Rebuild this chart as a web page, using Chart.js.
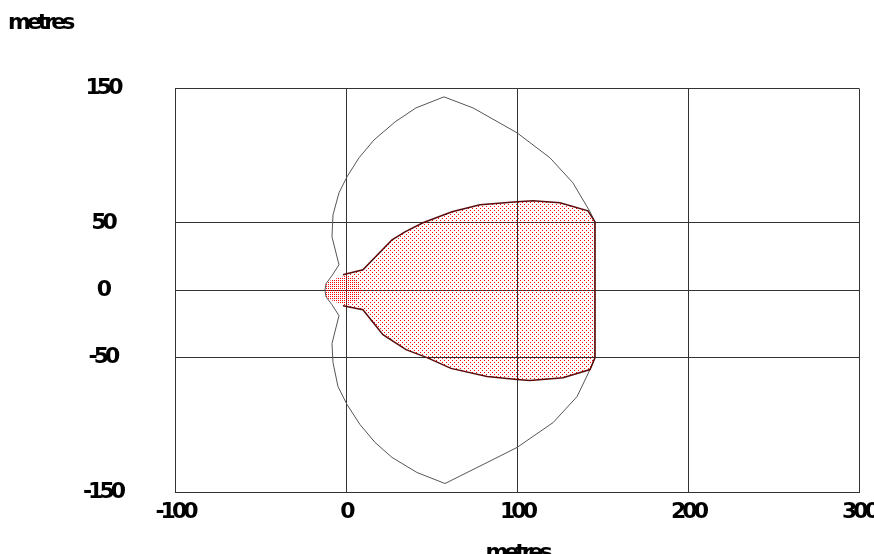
<!DOCTYPE html>
<html>
<head>
<meta charset="utf-8">
<script src="https://cdn.jsdelivr.net/npm/chart.js@4.4.0/dist/chart.umd.min.js"></script>
<style>
  html, body { margin: 0; padding: 0; overflow: hidden; background: #fff; }
  #wrap { width: 900px; height: 580px; }
</style>
</head>
<body>
<div id="wrap"><canvas id="coverChart" width="900" height="580"></canvas></div>
<script>
// axis ticks (metres)
const xTicks = [-100, 0, 100, 200, 300];
const yTicks = [-150, -50, 0, 50, 150];

// outer boundary (thin grey line)
const outerX = [145.6, 142.7, 132.7, 119.3, 100.0, 74.3, 57.3, 40.9, 28.7, 16.4, 7.6, 0.6, -4.1, -7.6, -8.2, -4.1, -8.2, -11.7, -12.3,
                -11.7, -8.2, -4.1, -8.2, -7.6, -4.7, 0.6, 8.2, 17.0, 26.9, 41.5, 57.9, 82.5, 100.0, 121.1, 135.1, 142.7, 145.6, 145.6];
const outerY = [50.8, 58.3, 79.8, 98.4, 117.0, 135.5, 143.7, 135.5, 125.1, 111.7, 98.4, 84.3, 72.4, 56.0, 39.7, 18.9, 10.8, 4.8, 0,
                -4.8, -10.8, -18.9, -39.7, -53.8, -71.6, -85.0, -99.9, -113.2, -124.3, -135.5, -143.7, -128.1, -116.9, -98.4, -79.1, -59.0, -50.1, 50.8];

// inner zone (red dotted, dark red outline)
const innerX = [-1.8, 9.9, 26.9, 34.5, 45.0, 62.0, 78.4, 100.0, 109.4, 125.1, 141.5, 145.6,
                145.6, 142.7, 126.9, 107.6, 100.0, 82.5, 61.4, 47.4, 35.1, 21.6, 9.9, -1.8, -1.8];
const innerY = [11.5, 15.2, 37.5, 43.4, 50.1, 58.3, 63.5, 65.7, 66.4, 65.0, 59.0, 50.8,
                -50.3, -59.0, -65.0, -67.2, -66.4, -64.2, -58.1, -50.1, -44.2, -33.0, -14.5, -11.5, 11.5];

// small dense zone near the origin
const blobX = [-12.3, -9.4, -4.7, 0, 4.7, 7.6, 8.8, 7.6, 4.7, 0, -4.7, -9.4, -12.3, -12.3];
const blobY = [4.8, 7.1, 9.3, 10.8, 8.5, 4.8, 0.4, -4.8, -8.5, -10.8, -9.3, -7.1, -4.8, 4.8];

function toPoints(xs, ys) {
    return xs.map((x, i) => ({ x: x, y: ys[i] }));
}

function dotPattern(size, dots) {
    const c = document.createElement('canvas');
    c.width = size; c.height = size;
    const g = c.getContext('2d');
    g.fillStyle = '#ff0000';
    dots.forEach(d => g.fillRect(d[0], d[1], 1, 1));
    return g.createPattern(c, 'repeat');
}

const sparseDots = dotPattern(4, [[0, 0], [2, 2]]);
const denseDots = dotPattern(2, [[0, 0]]);

// squashed heavy lettering like the original
const squeeze = {
    id: 'squeeze',
    beforeLayout(chart) { chart.ctx.letterSpacing = '-4px'; },
    beforeDraw(chart) { chart.ctx.letterSpacing = '-4px'; }
};

const labelFont = { family: 'DejaVu Sans', size: 22, weight: 'bold' };
const gridColor = '#333';
const noLine = 'rgba(0,0,0,0)';

const ctx = document.getElementById('coverChart').getContext('2d');
const coverChart = new Chart(ctx, {
    type: 'scatter',
    data: {
        datasets: [
            {
                label: 'blob',
                data: toPoints(blobX, blobY),
                showLine: true,
                borderWidth: 0,
                borderColor: noLine,
                backgroundColor: denseDots,
                fill: 'shape',
                pointRadius: 0,
                order: 1
            },
            {
                label: 'inner edge',
                data: toPoints(innerX.slice(0, -1), innerY.slice(0, -1)),
                showLine: true,
                borderWidth: 1.5,
                borderColor: '#5a0a0a',
                fill: false,
                pointRadius: 0,
                order: 2
            },
            {
                label: 'inner',
                data: toPoints(innerX, innerY),
                showLine: true,
                borderWidth: 0,
                borderColor: noLine,
                backgroundColor: sparseDots,
                fill: 'shape',
                pointRadius: 0,
                order: 3
            },
            {
                label: 'outer',
                data: toPoints(outerX, outerY),
                showLine: true,
                borderWidth: 1,
                borderColor: '#555',
                fill: false,
                pointRadius: 0,
                order: 4
            }
        ]
    },
    options: {
        responsive: false,
        animation: false,
        devicePixelRatio: 1,
        layout: { padding: { left: 8, right: 41, top: 0, bottom: 0 } },
        plugins: {
            legend: { display: false },
            tooltip: { enabled: false },
            title: {
                display: true,
                text: 'metres',
                align: 'start',
                color: '#000',
                font: labelFont,
                padding: { top: 10, bottom: 52 }
            }
        },
        scales: {
            x: {
                type: 'linear',
                min: -100,
                max: 300,
                afterBuildTicks: scale => { scale.ticks = xTicks.map(v => ({ value: v })); },
                afterFit: scale => { scale.height = 88; },
                grid: { color: gridColor, lineWidth: 1, drawTicks: false },
                border: { color: gridColor },
                ticks: { color: '#000', font: labelFont, padding: 7, maxRotation: 0 },
                title: {
                    display: true,
                    text: 'metres',
                    color: '#000',
                    font: labelFont,
                    padding: { top: 0, bottom: 14 }
                }
            },
            y: {
                type: 'linear',
                min: -150,
                max: 150,
                afterBuildTicks: scale => { scale.ticks = yTicks.map(v => ({ value: v })); },
                afterFit: scale => { scale.width = 167; },
                grid: { color: gridColor, lineWidth: 1, drawTicks: false },
                border: { color: gridColor },
                ticks: { color: '#000', font: labelFont, padding: 53, crossAlign: 'center' }
            }
        }
    },
    plugins: [squeeze]
});
</script>
</body>
</html>
